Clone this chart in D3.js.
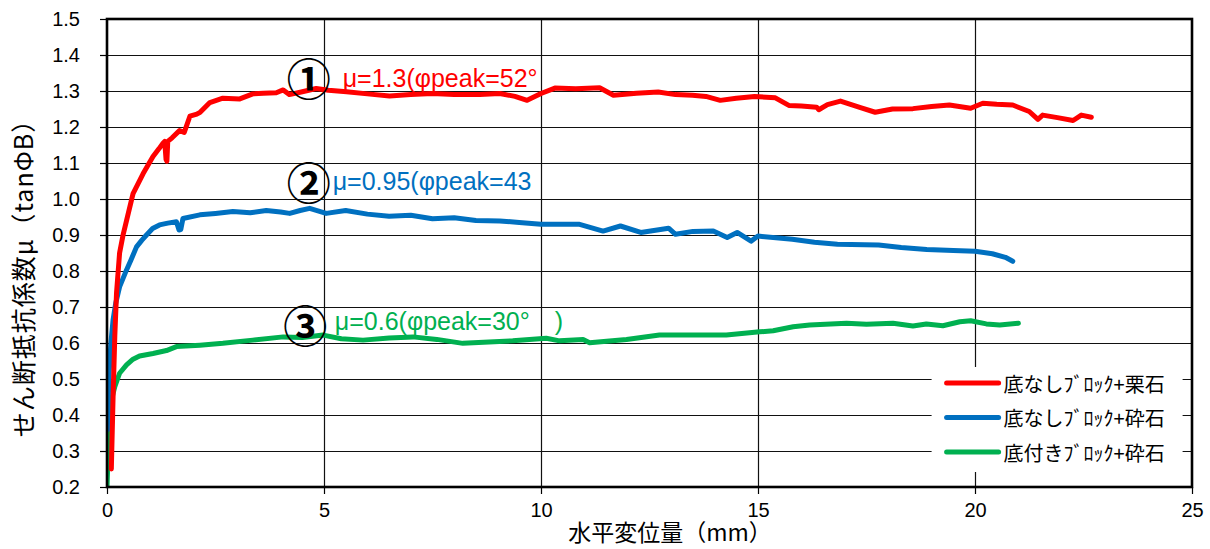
<!DOCTYPE html>
<html>
<head>
<meta charset="utf-8">
<script src="https://cdn.jsdelivr.net/npm/d3@7"></script>
<style>
  body { margin: 0; background: #fff; }
  text { font-family: "Liberation Sans", Arial, sans-serif; }
  .jp { font-family: "Noto Sans CJK JP", sans-serif; }
</style>
</head>
<body>
<svg id="chart" width="1210" height="549"></svg>
<script>
// series: [horizontal displacement (mm), shear resistance coefficient]
const redSeries = [[0.10,0.25],[0.14,0.45],[0.18,0.62],[0.22,0.74],[0.29,0.85],[0.37,0.90],[0.45,0.94],[0.60,1.015],[0.83,1.07],[1.06,1.118],[1.20,1.14],[1.29,1.155],[1.33,1.16],[1.36,1.11],[1.38,1.105],[1.40,1.16],[1.50,1.17],[1.67,1.19],[1.78,1.185],[1.91,1.23],[2.05,1.235],[2.14,1.24],[2.37,1.268],[2.67,1.28],[3.06,1.278],[3.36,1.292],[3.6,1.294],[3.9,1.295],[4.06,1.303],[4.2,1.29],[4.5,1.298],[4.82,1.307],[5.1,1.302],[5.52,1.298],[6.0,1.292],[6.51,1.286],[7.0,1.29],[7.5,1.293],[8.0,1.29],[8.59,1.29],[9.05,1.293],[9.4,1.285],[9.68,1.274],[10.0,1.293],[10.32,1.308],[10.8,1.306],[11.35,1.309],[11.67,1.288],[12.2,1.294],[12.7,1.297],[13.1,1.29],[13.49,1.288],[13.8,1.285],[14.13,1.274],[14.5,1.28],[14.92,1.285],[15.4,1.281],[15.71,1.26],[16.0,1.258],[16.35,1.255],[16.4,1.248],[16.6,1.262],[16.9,1.272],[17.38,1.253],[17.7,1.241],[18.1,1.25],[18.57,1.251],[19.0,1.257],[19.41,1.261],[19.9,1.252],[20.18,1.266],[20.5,1.263],[20.87,1.261],[21.25,1.243],[21.45,1.221],[21.56,1.233],[21.9,1.226],[22.26,1.218],[22.45,1.233],[22.68,1.227]];

const blueSeries = [[0.02,0.36],[0.03,0.45],[0.05,0.52],[0.09,0.6],[0.14,0.664],[0.2,0.71],[0.29,0.756],[0.45,0.803],[0.55,0.83],[0.68,0.867],[0.8,0.885],[0.91,0.9],[1.05,0.918],[1.21,0.928],[1.4,0.933],[1.6,0.937],[1.66,0.914],[1.70,0.915],[1.75,0.946],[2.14,0.956],[2.5,0.96],[2.9,0.965],[3.3,0.962],[3.67,0.968],[4.0,0.964],[4.21,0.96],[4.45,0.968],[4.67,0.974],[5.05,0.96],[5.5,0.968],[6.0,0.958],[6.5,0.952],[7.0,0.955],[7.5,0.945],[8.0,0.948],[8.5,0.94],[9.05,0.939],[9.5,0.935],[10.0,0.93],[10.87,0.93],[11.43,0.911],[11.83,0.925],[12.3,0.907],[12.94,0.919],[13.1,0.902],[13.5,0.91],[13.97,0.911],[14.29,0.893],[14.52,0.907],[14.84,0.883],[15.0,0.897],[15.79,0.888],[16.3,0.88],[16.83,0.874],[17.78,0.872],[18.3,0.865],[18.89,0.86],[19.5,0.857],[20.0,0.855],[20.4,0.848],[20.7,0.838],[20.87,0.827]];

const greenSeries = [[0.0,0.2],[0.03,0.3],[0.06,0.405],[0.12,0.45],[0.18,0.479],[0.29,0.516],[0.45,0.539],[0.6,0.555],[0.75,0.564],[1.06,0.571],[1.37,0.579],[1.6,0.59],[2.14,0.594],[2.67,0.599],[3.36,0.608],[4.06,0.617],[4.5,0.615],[4.98,0.622],[5.4,0.612],[5.9,0.608],[6.5,0.614],[7.05,0.617],[7.6,0.61],[8.2,0.599],[8.8,0.603],[9.35,0.606],[10.12,0.613],[10.43,0.606],[10.97,0.61],[11.12,0.601],[11.97,0.61],[12.73,0.622],[13.5,0.622],[14.27,0.622],[15.04,0.631],[15.35,0.634],[15.81,0.645],[16.19,0.65],[17.04,0.655],[17.5,0.652],[18.11,0.655],[18.57,0.647],[18.88,0.653],[19.26,0.648],[19.65,0.659],[19.9,0.662],[20.26,0.653],[20.57,0.65],[21.0,0.655]];

const seriesNames = ['底なしﾌﾞﾛｯｸ+栗石', '底なしﾌﾞﾛｯｸ+砕石', '底付きﾌﾞﾛｯｸ+砕石'];
const seriesColors = ['#ff0000', '#0070c0', '#00b050'];
const markers = ['①', '②', '③'];
const notes = ['μ=1.3(φpeak=52°', 'μ=0.95(φpeak=43', 'μ=0.6(φpeak=30°　)'];
// [marker x, marker y, text x, text baseline y] in data units
const notePos = [[4.65, 1.339, 5.43, 1.311], [4.65, 1.05, 5.2, 1.025], [4.57, 0.653, 5.25, 0.636]];

const xTicks = [0, 5, 10, 15, 20, 25];
const yTicks = d3.range(2, 16).map(d => d / 10);

const svg = d3.select('#chart');
const margin = { top: 19, right: 18, bottom: 62, left: 107 };
const width = 1210 - margin.left - margin.right;
const height = 549 - margin.top - margin.bottom;

const x = d3.scaleLinear().domain([0, 25]).range([0, width]);
const y = d3.scaleLinear().domain([0.2, 1.5]).range([height, 0]);

const g = svg.append('g').attr('transform', `translate(${margin.left},${margin.top})`);

// Gridlines
g.append('g')
  .selectAll('line')
  .data(yTicks)
  .join('line')
  .attr('x1', 0).attr('x2', width)
  .attr('y1', d => Math.round(y(d)) + 0.5).attr('y2', d => Math.round(y(d)) + 0.5)
  .attr('stroke', '#111').attr('stroke-width', 1.2);

g.append('g')
  .selectAll('line')
  .data(xTicks.slice(1, -1))
  .join('line')
  .attr('x1', d => Math.round(x(d)) + 0.5).attr('x2', d => Math.round(x(d)) + 0.5)
  .attr('y1', 0).attr('y2', height)
  .attr('stroke', '#111').attr('stroke-width', 1.2);

// Axes
const xAxis = g.append('g')
  .attr('transform', `translate(0,${height})`)
  .call(d3.axisBottom(x).tickValues(xTicks).tickSize(7).tickPadding(9).tickFormat(d3.format('d')));
const yAxis = g.append('g')
  .call(d3.axisLeft(y).tickValues(yTicks).tickSize(7).tickPadding(20).tickFormat(d3.format('.1f')));
[xAxis, yAxis].forEach(a => {
  a.select('.domain').remove();
  a.selectAll('line').attr('stroke', '#000').attr('stroke-width', 1.2);
  a.selectAll('text').attr('font-size', '20px').attr('fill', '#000')
    .attr('font-family', '"Liberation Sans", Arial, sans-serif');
});

// Series lines
const line = d3.line().x(d => x(d[0])).y(d => y(d[1]));
svg.append('clipPath').attr('id', 'plot')
  .append('rect').attr('width', width).attr('height', height);
const lines = g.append('g').attr('clip-path', 'url(#plot)');
[greenSeries, blueSeries, redSeries].forEach((s, i) => {
  lines.append('path')
    .datum(s)
    .attr('fill', 'none')
    .attr('stroke', seriesColors[2 - i])
    .attr('stroke-width', 5)
    .attr('stroke-linejoin', 'round')
    .attr('stroke-linecap', 'round')
    .attr('d', line);
});

// Annotations
notes.forEach((t, i) => {
  const p = notePos[i];
  g.append('text')
    .attr('class', 'jp')
    .attr('x', x(p[0]))
    .attr('y', y(p[1]))
    .attr('text-anchor', 'middle')
    .attr('dominant-baseline', 'central')
    .attr('font-size', '44px')
    .attr('font-weight', 'bold')
    .attr('fill', '#000')
    .text(markers[i]);
  g.append('text')
    .attr('x', x(p[2]))
    .attr('y', y(p[3]))
    .attr('font-family', 'Lato, "Open Sans", sans-serif')
    .attr('font-size', '25px')
    .attr('fill', seriesColors[i])
    .text(t);
});

// Legend
const legend = g.append('g').attr('transform', `translate(${x(19.0)},${y(0.6) + 24})`);
legend.append('rect')
  .attr('x', 0).attr('y', 0).attr('width', 251).attr('height', 105)
  .attr('fill', '#fff');
seriesNames.forEach((n, i) => {
  const ly = 16 + i * 34.5;
  legend.append('line')
    .attr('x1', 15).attr('x2', 67).attr('y1', ly).attr('y2', ly)
    .attr('stroke', seriesColors[i]).attr('stroke-width', 5).attr('stroke-linecap', 'round');
  legend.append('text')
    .attr('class', 'jp')
    .attr('x', 72).attr('y', ly)
    .attr('dominant-baseline', 'central')
    .attr('font-size', '20px')
    .attr('fill', '#000')
    .text(n);
});

// Plot frame
g.append('rect')
  .attr('width', width).attr('height', height)
  .attr('fill', 'none').attr('stroke', '#000').attr('stroke-width', 2.6);

// Axis titles
svg.append('text')
  .attr('class', 'jp')
  .attr('x', 670).attr('y', 541)
  .attr('text-anchor', 'middle')
  .attr('font-size', '23px')
  .text('水平変位量（mm）');

svg.append('text')
  .attr('class', 'jp')
  .attr('transform', 'translate(33,272) rotate(-90)')
  .attr('text-anchor', 'middle')
  .attr('font-size', '25px')
  .attr('letter-spacing', '1px')
  .text('せん断抵抗係数μ（tanΦB）');
</script>
</body>
</html>
